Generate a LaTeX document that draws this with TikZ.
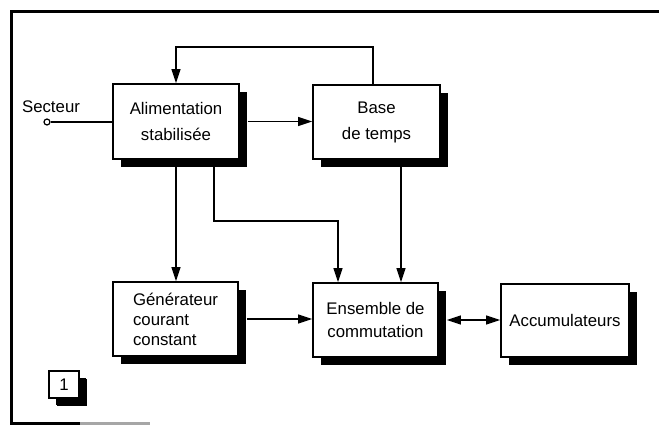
\documentclass[tikz,border=0pt]{standalone}
\usepackage{fontspec}
\setmainfont{Liberation Sans}
\usetikzlibrary{arrows.meta,shadows}
\begin{document}
\begin{tikzpicture}[x=1pt,y=-1pt]
	\useasboundingbox (0,0) rectangle (659,425);
	\tikzstyle block=[draw,line width=1.8pt,fill=white,inner sep=0pt,
		drop shadow={shadow xshift=8pt,shadow yshift=-8pt,fill=black,opacity=1},
		font=\fontsize{16.8}{26}\selectfont,align=center]
	\tikzstyle wire=[line width=1.4pt]
	\tikzstyle arr=[wire,-{Triangle[length=14pt,width=9pt]}]
	\tikzstyle both=[wire,{Triangle[length=14pt,width=9pt]}-{Triangle[length=14pt,width=9pt]}]

	% cadre
	\draw[line width=3pt] (659,12) -- (11,12) -- (11,423) -- (80,423);
	\draw[line width=3pt,black!35] (80,423) -- (150,423);

	\node[block,minimum width=126pt,minimum height=75pt] (alim) at (176,121.5) {Alimentation\\stabilisée};
	\node[block,minimum width=127pt,minimum height=74pt] (base) at (376.5,122) {Base\\de temps};
	\node[block,minimum width=125pt,minimum height=74pt,align=left,
		font=\fontsize{16.8}{20}\selectfont] (gen) at (175.5,319) {Générateur\\ courant\\ constant};
	\node[block,minimum width=125pt,minimum height=74pt,
		font=\fontsize{16.8}{23}\selectfont] (ens) at (375.5,320) {Ensemble de\\commutation};
	\node[block,minimum width=128pt,minimum height=73pt] (acc) at (565,320.5) {Accumulateurs};
	\node[block,line width=1.5pt,minimum width=30pt,minimum height=27pt,
		drop shadow={shadow xshift=7pt,shadow yshift=-7pt,fill=black,opacity=1}] (num) at (64,384.5) {1};

	\node[anchor=base,font=\fontsize{16.8}{20}\selectfont,inner sep=0pt] (sect) at (51,113) {Secteur};
	\node[circle,draw,line width=1.2pt,inner sep=0pt,minimum size=6pt] (pin) at (47,122) {};

	\draw[wire] (pin) -- (pin -| alim.west);
	\draw[arr] ([xshift=8pt]alim.east) -- (alim.east -| base.west);
	\draw[arr] ([xshift=-3.5pt]base.north) -- ++(0,-37) -| (alim.north);
	\draw[arr] (alim.south) -- (alim.south |- gen.north);
	\coordinate (k) at (338,221);
	\draw[arr] ([xshift=38pt]alim.south) |- (k) -- (k |- ens.north);
	\draw[arr] ([xshift=24.5pt]base.south) -- ([xshift=24.5pt]base.south |- ens.north);
	\draw[arr] ([xshift=8pt]gen.east) -- (gen.east -| ens.west);
	\draw[both] ([xshift=8pt]ens.east) -- (ens.east -| acc.west);
\end{tikzpicture}
\end{document}
